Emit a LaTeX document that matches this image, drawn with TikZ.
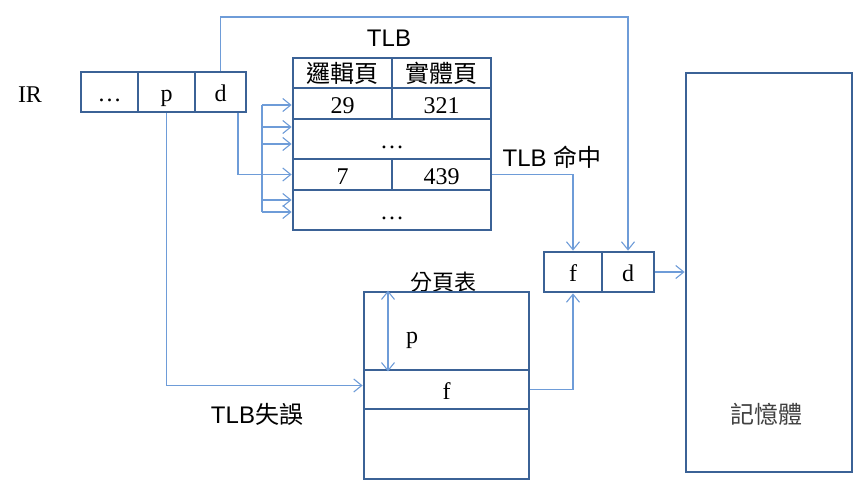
\documentclass[tikz,border=0pt]{standalone}
\usepackage{fontspec}
\setmainfont{Liberation Serif}
\setsansfont{Liberation Sans}
\newfontfamily\cjk{Noto Sans CJK TC}
\usepackage{xcolor}
\usetikzlibrary{arrows.meta, positioning, calc}
\definecolor{boxblue}{HTML}{3B6296}
\definecolor{linkblue}{HTML}{6E9CD8}

\begin{document}
\begin{tikzpicture}[x=1pt, y=-1pt,
  >={Straight Barb[length=8pt,width=13pt]},
  cell/.style={draw=boxblue, line width=2.8pt, inner sep=0pt, text height=24pt, text depth=5pt,
    font=\fontsize{24}{28}\selectfont},
  link/.style={draw=linkblue, line width=1.1pt},
  lbl/.style={inner sep=0pt, font=\sffamily\fontsize{24}{28}\selectfont}]
\useasboundingbox (0,0) rectangle (864,490);

% IR register
\node[inner sep=0pt, font=\fontsize{24}{28}\selectfont] (irlbl) at (30,94.5) {IR};
\node[cell, minimum width=57pt, minimum height=40pt] (irdots) at (109.5,92) {…};
\node[cell, minimum width=57pt, minimum height=40pt] (irp) at (166.5,92) {p};
\node[cell, minimum width=51pt, minimum height=40pt] (ird) at (220.5,92) {d};

% TLB table
\node[lbl] (tlblbl) at (389,38) {TLB};
\foreach \nm/\yc/\hh/\ltxt/\rtxt in {hd/73/30pt/{\cjk 邏輯頁}/{\cjk 實體頁},
    ra/103.5/31pt/29/321, rb/174.5/31pt/7/439} {
  \node[cell, minimum width=99pt, minimum height=\hh] (\nm-l) at (342.5,\yc) {\ltxt};
  \node[cell, minimum width=99pt, minimum height=\hh] (\nm-r) at (441.5,\yc) {\rtxt};
}
\node[cell, minimum width=198pt, minimum height=40pt] (rdots1) at (392,139) {…};
\node[cell, minimum width=198pt, minimum height=40pt] (rdots2) at (392,210) {…};

% f d register and memory
\node[cell, minimum width=58pt, minimum height=40pt] (fdf) at (573,272) {f};
\node[cell, minimum width=52pt, minimum height=40pt] (fdd) at (628,272) {d};
\node[cell, minimum width=166pt, minimum height=399pt] (mem) at (769,272.5) {};
\node[lbl, font=\fontsize{24}{28}\selectfont\cjk, text=black!75] (memlbl) at (766,414) {記憶體};

% page table
\node[inner sep=0pt, font=\fontsize{22}{26}\selectfont\cjk] (ptlbl) at (443,282) {分頁表};
\node[cell, minimum width=165pt, minimum height=78pt] (pt1) at (446.5,331) {};
\node[cell, minimum width=165pt, minimum height=39pt] (pt2) at (446.5,389.5) {f};
\node[cell, minimum width=165pt, minimum height=70pt] (pt3) at (446.5,444) {};
\node[inner sep=0pt, font=\fontsize{24}{28}\selectfont] (ptp) at (412,340) {p};
\draw[link,<->] ([xshift=-58.5pt]pt1.north) -- ([xshift=-58.5pt]pt1.south);

% d goes straight to the f d register
\coordinate (dtop) at (220.5,17);
\draw[link,->] (ird.north) -- (dtop) -| (fdd.north);

% p searched in all TLB entries
\coordinate (bustop) at (262,105);
\coordinate (busbot) at (262,212);
\draw[link] (bustop) -- (busbot);
\foreach \yy in {105,127,144,200,212}
  \draw[link,->] (bustop |- 0,\yy) -- (hd-l.west |- 0,\yy);
\draw[link,->] ([xshift=17.5pt]ird.south) |- (rb-l.west);

% TLB hit
\node[lbl] (hitlbl) at (552,157) {TLB {\cjk 命中}};
\draw[link,->] (rb-r.east) -| (fdf.north);

% TLB miss
\node[lbl] (misslbl) at (257,414) {TLB{\cjk 失誤}};
\draw[link,->] (irp.south) |- ([yshift=4pt]pt2.west);
\draw[link,->] (pt2.east) -| (fdf.south);

\draw[link,->] (fdd.east) -- (fdd.east -| mem.west);
\end{tikzpicture}
\end{document}
